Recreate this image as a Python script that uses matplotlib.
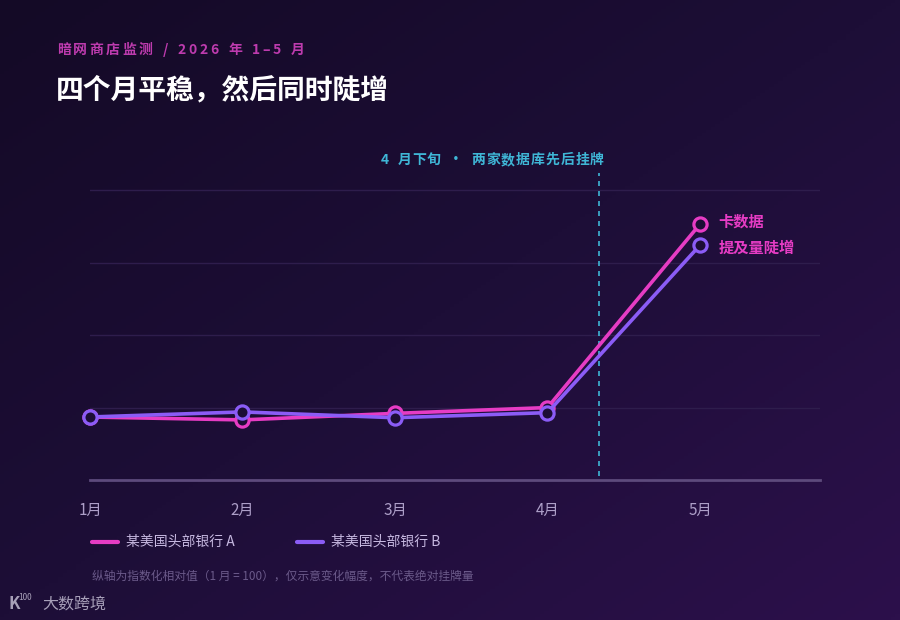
import numpy as np
import matplotlib
matplotlib.use("Agg")
import matplotlib.pyplot as plt
from matplotlib.colors import LinearSegmentedColormap

plt.rcParams['font.family'] = ['Noto Sans CJK SC', 'DejaVu Sans']

# ================= DATA =================

months = ["1月", "2月", "3月", "4月", "5月"]
bank_a = [100, 96, 105, 113, 366]
bank_b = [100, 107, 99, 106, 337]
series_names = ["某美国头部银行 A", "某美国头部银行 B"]
event_x = 3.34
event_label = "4 月下旬 · 两家数据库先后挂牌"
end_label = ["卡数据", "提及量陡增"]

# ================= STYLE =================

PINK = "#e63cc4"
PURPLE = "#8b5cf6"
CYAN = "#3fb6d6"
TICK = "#ad9fc8"
BG_DOT = "#1c0d35"

W, H = 900, 620
fig = plt.figure(figsize=(9, 6.2), dpi=100)
renderer = fig.canvas.get_renderer()

# background gradient
bg = fig.add_axes([0, 0, 1, 1], zorder=-10)
gx, gy = np.meshgrid(np.linspace(0, 1, 200), np.linspace(0, 1, 200))
grad = 0.6 * gx + 0.6 * gy
cmap = LinearSegmentedColormap.from_list("bg", ["#140a26", "#1d0e37", "#2c104b"])
bg.imshow(grad, cmap=cmap, aspect="auto", extent=[0, 1, 0, 1], origin="upper")
bg.axis("off")


def fx(px):
    return px / W


def fy(py):
    return 1 - py / H


def spaced_text(x_px, y_px, s, spacing, ha="left", space_w=0.35, **kw):
    # letter-spaced text, one glyph at a time
    widths = []
    for ch in s:
        if ch == " ":
            widths.append(kw.get("fontsize", 10) * space_w * 1.39)
            continue
        t = fig.text(0, 0, ch, **kw)
        widths.append(t.get_window_extent(renderer).width)
        t.remove()
    total = sum(widths) + spacing * (len(s) - 1)
    pos = x_px - total if ha == "right" else x_px
    for ch, w in zip(s, widths):
        if ch != " ":
            fig.text(fx(pos), fy(y_px), ch, ha="left", va="center", **kw)
        pos += w + spacing


# ================= CHART =================

ax = fig.add_axes([fx(90), fy(480), fx(730), 305 / H])
ax.set_facecolor("none")
ax.set_xlim(0, 4.787)
ax.set_ylim(13.1, 433.8)

for v in [112, 213, 313, 413]:
    ax.axhline(v, color="#2e1d4c", lw=1, zorder=0)
ax.axhline(13.1, color="#5d4a7c", lw=2, zorder=1, clip_on=False)

ax.plot([event_x, event_x], [18, 436], color=CYAN, lw=1.2,
        ls=(0, (3, 3)), zorder=1, clip_on=False)

x = np.arange(len(months))
ax.plot(x, bank_a, color=PINK, lw=2.6, marker="o", ms=9.5, mew=2.3,
        mfc=BG_DOT, mec=PINK, zorder=3, clip_on=False)
ax.plot(x, bank_b, color=PURPLE, lw=2.6, marker="o", ms=9.5, mew=2.3,
        mfc=BG_DOT, mec=PURPLE, zorder=4, clip_on=False)

ax.set_xticks(x)
ax.set_xticklabels(months, color=TICK, fontsize=11)
ax.tick_params(axis="x", length=0, pad=16)
ax.set_yticks([])
for s in ax.spines.values():
    s.set_visible(False)

# end labels
ax.text(x[-1] + 0.12, bank_a[-1] + 4, end_label[0], color=PINK,
        fontsize=11, fontweight="bold", va="center", ha="left")
ax.text(x[-1] + 0.12, bank_b[-1] - 4, end_label[1], color=PINK,
        fontsize=11, fontweight="bold", va="center", ha="left")

# event label
spaced_text(604, 160, event_label, 1.0, ha="right", space_w=0.45,
            color=CYAN, fontsize=10, fontweight="bold")

# ================= TITLES =================

spaced_text(57, 50, "暗网商店监测 / 2026 年 1–5 月", 2.5, color="#bd3bae",
            fontsize=10, fontweight="bold")
fig.text(fx(56), fy(90), "四个月平稳，然后同时陡增", color="white",
         fontsize=20, fontweight="bold", ha="left", va="center")

# ================= LEGEND =================

for i, (name, col) in enumerate(zip(series_names, [PINK, PURPLE])):
    x0 = 92 + i * 205
    fig.add_artist(plt.Line2D([fx(x0), fx(x0 + 26)], [fy(542), fy(542)],
                              color=col, lw=3, solid_capstyle="round"))
    fig.text(fx(x0 + 34), fy(542), name, color="#c6b8e0", fontsize=10,
             ha="left", va="center")

fig.text(fx(92), fy(576), "纵轴为指数化相对值（1 月 = 100），仅示意变化幅度，不代表绝对挂牌量",
         color="#6b5a8a", fontsize=8.5, ha="left", va="center")

# logo
fig.text(fx(8), fy(604), "K", color="#a79fb8", fontsize=12, fontweight="bold",
         ha="left", va="center")
fig.text(fx(18), fy(598), "100", color="#a79fb8", fontsize=6,
         ha="left", va="center")
fig.text(fx(42), fy(604), "大数跨境", color="#a79fb8", fontsize=11.5,
         ha="left", va="center")

fig.savefig("out.png", dpi=100)
